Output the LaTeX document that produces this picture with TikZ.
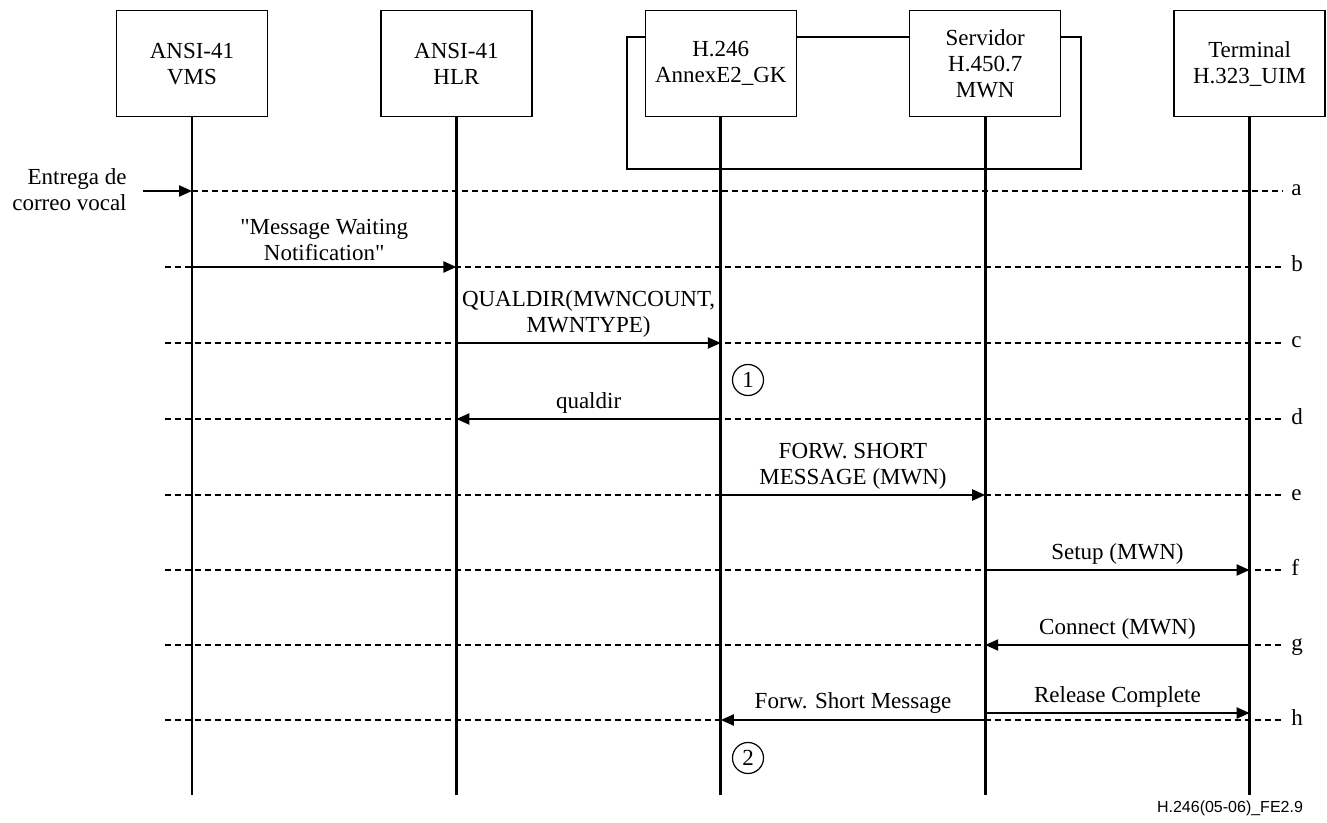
\documentclass[tikz,border=0pt]{standalone}
\usepackage{fontspec}
\setmainfont{Liberation Serif}
\newfontfamily\figidfont{Liberation Sans}
\usetikzlibrary{arrows.meta, positioning}

\begin{document}
\begin{tikzpicture}[
    x=0.5pt, y=-0.5pt,
    node distance = 56pt,
    entidad/.style = {rectangle, draw, line width=0.7pt, fill=white,
                      minimum width=75.5pt, minimum height=53pt,
                      align=center, anchor=north, inner sep=2pt},
    vida/.style = {line width=1.35pt},
    guia/.style = {line width=0.6pt, dash pattern=on 3pt off 2pt},
    msj/.style = {line width=1.1pt, -{Triangle[length=6.5pt, width=5.5pt]}},
    etq/.style = {above, align=center, inner sep=2.5pt},
    paso/.style = {circle, draw, line width=0.6pt, minimum size=15.5pt, inner sep=0pt},
    font=\fontsize{11.5}{13}\selectfont
    ]
  \useasboundingbox (0,0) rectangle (1327,823);

  % grupo GK + servidor
  \draw[line width=0.7pt] (627,37) rectangle (1081,169);

  \node[entidad] (vms) at (192,10) {ANSI-41\\VMS};
  \node[entidad] (hlr) [right=of vms] {ANSI-41\\HLR};
  \node[entidad] (gk)  [right=of hlr] {H.246\\AnnexE2\_GK};
  \node[entidad] (mwn) [right=of gk]  {Servidor\\H.450.7\\MWN};
  \node[entidad] (uim) [right=of mwn] {Terminal\\H.323\_UIM};

  % lineas de referencia a..h
  \foreach \x/\y/\l in {192/191/a, 165/267/b, 165/343/c, 165/419/d,
                        165/495/e, 165/570/f, 165/645/g, 165/720/h} {
    \coordinate (l\l) at (\x,\y);
    \node[anchor=base west, inner sep=4pt] (t\l) at (1283,\y+5) {\l};
    \draw[guia] (l\l) -- (l\l -| t\l.west);
  }
  \coordinate (lhr) at (165,713);
  \coordinate (fondo) at (0,795);

  \foreach \n in {vms,hlr,gk,mwn,uim}
    \draw[vida] (\n.south) -- (\n.south |- fondo);

  \node[align=right, anchor=east, inner sep=0pt] (entrega) at (127,190)
    {Entrega de\\correo vocal};
  \coordinate (ein) at ([xshift=8pt]entrega.east);
  \draw[msj] (ein |- la) -- (vms |- la);

  \draw[msj] (vms |- lb) -- node[etq] {\textquotedbl Message Waiting\\Notification\textquotedbl} (hlr |- lb);
  \draw[msj] (hlr |- lc) -- node[etq] {QUALDIR(MWNCOUNT,\\MWNTYPE)} (gk |- lc);
  \draw[msj] (gk |- ld) -- node[etq] {qualdir} (hlr |- ld);
  \draw[msj] (gk |- le) -- node[etq] {FORW. SHORT\\MESSAGE (MWN)} (mwn |- le);
  \draw[msj] (mwn |- lf) -- node[etq] {Setup (MWN)} (uim |- lf);
  \draw[msj] (uim |- lg) -- node[etq] {Connect (MWN)} (mwn |- lg);
  \draw[msj] (mwn |- lh) -- node[etq] {Forw. Short Message} (gk |- lh);
  \draw[msj] (mwn |- lhr) -- node[etq] {Release Complete} (uim |- lhr);

  \node[paso] (p1) at (748,380) {1};
  \node[paso] (p2) at (748,758) {2};

  \node[font=\figidfont\fontsize{8}{9}\selectfont] (figid) at (1230,808)
    {H.246(05-06)\_FE2.9};
\end{tikzpicture}
\end{document}
